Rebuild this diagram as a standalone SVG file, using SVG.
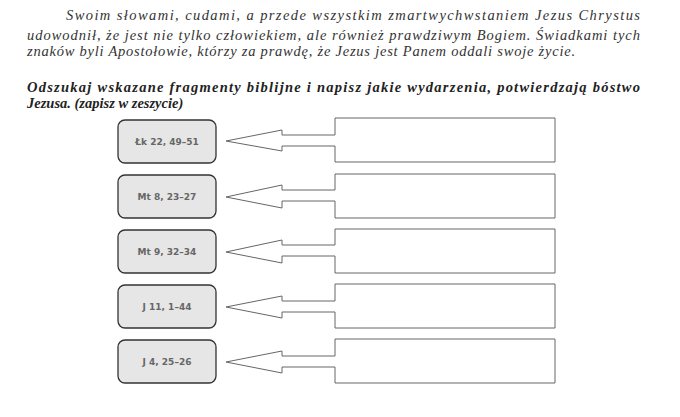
<svg xmlns="http://www.w3.org/2000/svg" width="680" height="417" viewBox="0 0 680 417">
<style>
.p{font-family:'Liberation Serif','Times New Roman','DejaVu Serif',serif;font-style:italic;font-size:14.5px;fill:#333}
.b{font-family:'Liberation Serif','Times New Roman','DejaVu Serif',serif;font-style:italic;font-weight:bold;font-size:14.5px;fill:#222}
.lb{fill:#e6e6e6;stroke:#333;stroke-width:1.3}
.lt{font-family:'DejaVu Sans',sans-serif;font-size:9px;font-weight:bold;fill:#666;text-anchor:middle}
.ar{fill:#fff;stroke:#666;stroke-width:1}
</style>
<rect width="680" height="417" fill="#fff"/>
<text class="p" x="66" y="20" textLength="574" lengthAdjust="spacing">Swoim słowami, cudami, a przede wszystkim zmartwychwstaniem Jezus Chrystus</text>
<text class="p" x="27" y="40" textLength="613" lengthAdjust="spacing">udowodnił, że jest nie tylko człowiekiem, ale również prawdziwym Bogiem. Świadkami tych</text>
<text class="p" x="27" y="56" textLength="548" lengthAdjust="spacing">znaków byli Apostołowie, którzy za prawdę, że Jezus jest Panem oddali swoje życie.</text>
<text class="b" x="27" y="92" textLength="613" lengthAdjust="spacing">Odszukaj wskazane fragmenty biblijne i napisz jakie wydarzenia, potwierdzają bóstwo</text>
<text class="b" x="27" y="108">Jezusa. (zapisz w zeszycie)</text>
<g id="n1"><rect class="lb" x="118" y="120" width="98" height="43" rx="7"/><text class="lt" x="167" y="145">Łk 22, 49–51</text></g>
<g id="n2"><rect class="lb" x="118" y="175" width="98" height="43" rx="7"/><text class="lt" x="167" y="200">Mt 8, 23–27</text></g>
<g id="n3"><rect class="lb" x="118" y="230" width="98" height="43" rx="7"/><text class="lt" x="167" y="255">Mt 9, 32–34</text></g>
<g id="n4"><rect class="lb" x="118" y="285" width="98" height="43" rx="7"/><text class="lt" x="167" y="310">J 11, 1–44</text></g>
<g id="n5"><rect class="lb" x="118" y="340" width="98" height="43" rx="7"/><text class="lt" x="167" y="365">J 4, 25–26</text></g>
<g id="connectors">
<path class="ar" d="M555 118 H335 V135 H282 V130 L226 141 L282 151 V146 H335 V162 H555 Z"/>
<path class="ar" d="M555 174 H335 V190 H282 V185 L226 197 L282 208 V201 H335 V218 H555 Z"/>
<path class="ar" d="M555 229 H335 V245 H282 V240 L226 252 L282 263 V256 H335 V273 H555 Z"/>
<path class="ar" d="M555 284 H335 V301 H282 V296 L226 307 L282 318 V312 H335 V328 H555 Z"/>
<path class="ar" d="M555 339 H335 V356 H282 V351 L226 362 L282 373 V367 H335 V383 H555 Z"/>
</g>
</svg>
